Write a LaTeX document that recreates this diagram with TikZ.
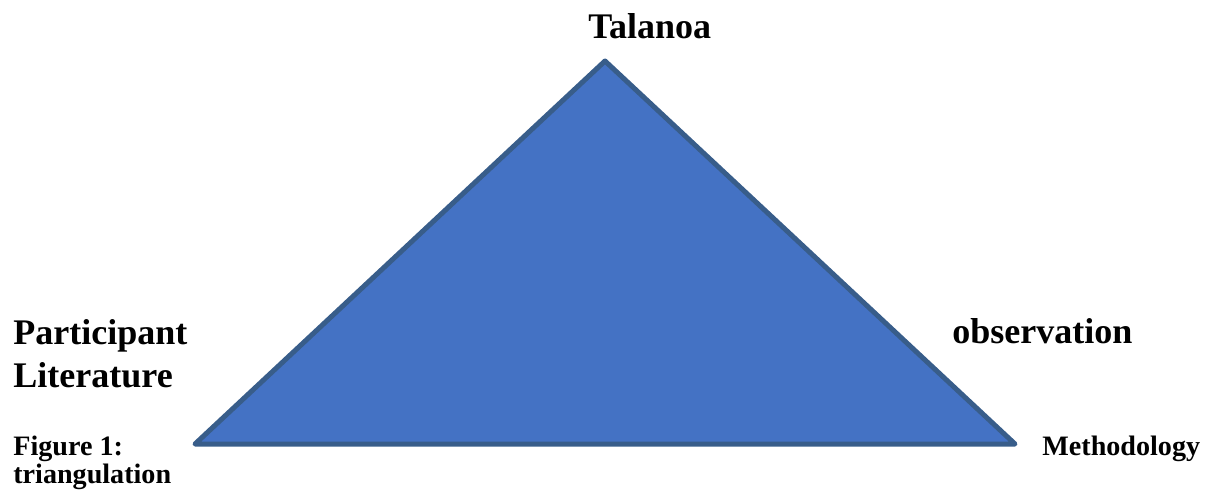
\documentclass[tikz,border=0pt]{standalone}
\usepackage{fontspec}
\setmainfont{Liberation Serif}
\definecolor{trifill}{HTML}{4472C4}
\definecolor{triline}{HTML}{385D8A}
\tikzset{
  biglabel/.style={anchor=base west,inner sep=0pt,font=\fontsize{20.5}{24}\selectfont\bfseries},
  smalllabel/.style={anchor=base west,inner sep=0pt,font=\fontsize{16}{19}\selectfont\bfseries}
}
\begin{document}
\begin{tikzpicture}
\useasboundingbox (0,0) rectangle (24.24,9.8);
\coordinate (apex) at (12.10,8.58);
\coordinate (lcorner) at (3.90,0.92);
\coordinate (rcorner) at (20.30,0.92);
\filldraw[fill=trifill,draw=triline,line width=0.1cm,line join=round] (apex)--(lcorner)--(rcorner)--cycle;
\node[biglabel] (talanoa) at (11.76,9.04) {Talanoa};
\node[biglabel] (participant) at (0.26,2.92) {Participant};
\node[biglabel] (literature) at (0.26,2.06) {Literature};
\node[biglabel] (observation) at (19.04,2.94) {observation};
\node[smalllabel] (figure) at (0.26,0.70) {Figure 1:};
\node[smalllabel] (triang) at (0.26,0.14) {triangulation};
\node[smalllabel] (method) at (20.84,0.70) {Methodology};
\end{tikzpicture}
\end{document}
